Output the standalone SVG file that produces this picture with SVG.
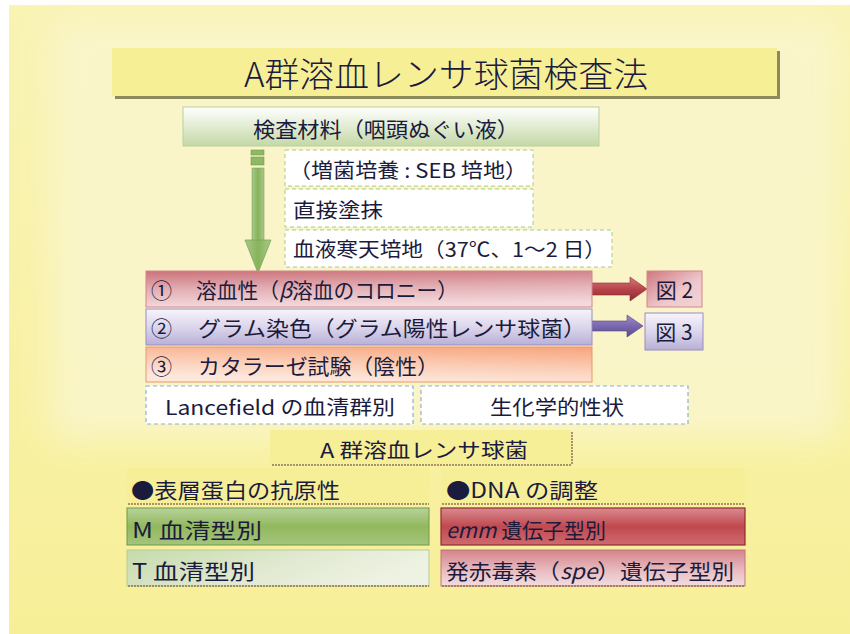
<svg xmlns="http://www.w3.org/2000/svg" width="850" height="634" viewBox="0 0 850 634">
<defs>
<linearGradient id="bgG" x1="0" y1="0" x2="0" y2="1">
<stop offset="0" stop-color="#f9f3b4"/>
<stop offset="1" stop-color="#f7ef98"/>
</linearGradient>
<filter id="blur" x="-10%" y="-10%" width="120%" height="120%"><feGaussianBlur stdDeviation="18"/></filter>
<linearGradient id="matG" x1="0" y1="0" x2="0" y2="1">
<stop offset="0" stop-color="#ffffff"/>
<stop offset="1" stop-color="#c4d8a6"/>
</linearGradient>
<linearGradient id="redG" x1="0" y1="0" x2="0.15" y2="1">
<stop offset="0" stop-color="#cc727a"/>
<stop offset="0.5" stop-color="#e2aeb3"/>
<stop offset="1" stop-color="#f3d9dc"/>
</linearGradient>
<linearGradient id="purG" x1="0" y1="0" x2="0" y2="1">
<stop offset="0" stop-color="#f6f4fb"/>
<stop offset="0.5" stop-color="#dcd6ec"/>
<stop offset="1" stop-color="#b9b0d6"/>
</linearGradient>
<linearGradient id="orG" x1="1" y1="0" x2="0.7" y2="1">
<stop offset="0" stop-color="#f7a47c"/>
<stop offset="0.6" stop-color="#fbcfb8"/>
<stop offset="1" stop-color="#fde6da"/>
</linearGradient>
<linearGradient id="mG" x1="0" y1="0" x2="0" y2="1">
<stop offset="0" stop-color="#b8d39a"/>
<stop offset="0.5" stop-color="#92b85e"/>
<stop offset="1" stop-color="#a4c47c"/>
</linearGradient>
<linearGradient id="tG" x1="0" y1="0" x2="1" y2="0.3">
<stop offset="0" stop-color="#c6dbac"/>
<stop offset="0.6" stop-color="#e2ead2"/>
<stop offset="1" stop-color="#eef2e2"/>
</linearGradient>
<linearGradient id="emmG" x1="0" y1="0" x2="0" y2="1">
<stop offset="0" stop-color="#d98a90"/>
<stop offset="0.5" stop-color="#c0494f"/>
<stop offset="1" stop-color="#cf6a70"/>
</linearGradient>
<linearGradient id="speG" x1="0" y1="0" x2="0" y2="1">
<stop offset="0" stop-color="#d4848b"/>
<stop offset="0.6" stop-color="#e9bfc3"/>
<stop offset="1" stop-color="#f3dcdf"/>
</linearGradient>
<linearGradient id="fig2G" x1="0" y1="0" x2="1" y2="1">
<stop offset="0" stop-color="#cf7880"/>
<stop offset="0.6" stop-color="#eec8cc"/>
<stop offset="1" stop-color="#f2d3d6"/>
</linearGradient>
<linearGradient id="arrG" x1="0" y1="0" x2="1" y2="0">
<stop offset="0" stop-color="#a9c98a"/>
<stop offset="0.5" stop-color="#87b35a"/>
<stop offset="1" stop-color="#a9c98a"/>
</linearGradient>
<linearGradient id="redArr" x1="0" y1="0" x2="0" y2="1">
<stop offset="0" stop-color="#d57a80"/>
<stop offset="0.5" stop-color="#b8444b"/>
<stop offset="1" stop-color="#8e2a30"/>
</linearGradient>
<linearGradient id="purArr" x1="0" y1="0" x2="0" y2="1">
<stop offset="0" stop-color="#9d8ccc"/>
<stop offset="0.5" stop-color="#7a67b0"/>
<stop offset="1" stop-color="#5b4b8c"/>
</linearGradient>
</defs>
<style>
text{font-family:"Noto Sans CJK JP","Noto Sans CJK SC","DejaVu Sans",sans-serif;fill:#1b1b3d;}
.t20{font-size:21px;}
.t19{font-size:20px;}
.yb{fill:#f7ef98;}
.dashG{fill:#ffffff;stroke:#a9c98a;stroke-width:1;stroke-dasharray:4 3;}
.dashB{fill:#ffffff;stroke:#8eb0d6;stroke-width:1.2;stroke-dasharray:4 3;}
.shadow{fill:none;stroke:#8a6a50;stroke-width:2;stroke-dasharray:2 1;opacity:0.7;}
</style>

<rect x="0" y="0" width="850" height="634" fill="#ffffff"/>
<rect x="9" y="5" width="841" height="629" fill="url(#bgG)"/>
<rect x="50" y="20" width="790" height="420" fill="#faf6cc" filter="url(#blur)" opacity="0.9"/>

<g id="title">
<rect x="115" y="51" width="665" height="48" fill="#8c8a5a"/>
<rect x="112" y="48" width="665" height="48" fill="#f7ef96"/>
<text x="446" y="87" font-size="34" text-anchor="middle" textLength="404" lengthAdjust="spacingAndGlyphs" style="font-weight:300">A群溶血レンサ球菌検査法</text>
</g>

<g id="material">
<rect x="183" y="107" width="416" height="39" fill="url(#matG)" stroke="#b8d09c" stroke-width="1"/>
<text x="386" y="137" class="t20" text-anchor="middle" textLength="266" lengthAdjust="spacingAndGlyphs">検査材料（咽頭ぬぐい液）</text>
</g>

<g id="connectors">
<g id="downArrow">
<rect x="251" y="150" width="13" height="5" fill="#8fb865" stroke="#6e9a48" stroke-width="0.6"/>
<rect x="251" y="157" width="13" height="8" fill="#8fb865" stroke="#6e9a48" stroke-width="0.6"/>
<rect x="252" y="168" width="12" height="73" fill="url(#arrG)" stroke="#7ea55a" stroke-width="0.6"/>
<path d="M245,240 L271,240 L258,273 Z" fill="url(#arrG)" stroke="#7ea55a" stroke-width="0.8"/>
</g>
<g id="arrowFig2">
<rect x="578" y="283" width="2.5" height="12" fill="#a8323a"/>
<rect x="582" y="283" width="2.5" height="12" fill="#a8323a"/>
<rect x="586" y="283" width="2.5" height="12" fill="#a8323a"/>
<path d="M589,283 L630,283 L630,277 L647,289 L630,301 L630,295 L589,295 Z" fill="url(#redArr)" stroke="#8e2a30" stroke-width="0.6"/>
</g>
<g id="arrowFig3">
<rect x="585" y="320" width="2.5" height="12" fill="#5b4b8c"/>
<rect x="589" y="320" width="2.5" height="12" fill="#5b4b8c"/>
<path d="M592,321 L627,321 L627,315 L643,326 L627,337 L627,331 L592,331 Z" fill="url(#purArr)" stroke="#52437e" stroke-width="0.6"/>
</g>
</g>

<g id="enrich">
<rect x="285" y="150" width="248" height="36" class="dashG"/>
<text x="289" y="178" class="t19" textLength="238" lengthAdjust="spacingAndGlyphs">（増菌培養 : SEB 培地）</text>
</g>
<g id="smear">
<rect x="285" y="189" width="248" height="38" class="dashG"/>
<text x="293" y="218" class="t19" textLength="90" lengthAdjust="spacingAndGlyphs">直接塗抹</text>
</g>
<g id="bloodAgar">
<rect x="285" y="230" width="327" height="37" class="dashG"/>
<text x="293" y="257" class="t19" textLength="313" lengthAdjust="spacingAndGlyphs">血液寒天培地（37℃、1～2 日）</text>
</g>

<g id="hemolysis">
<rect x="146" y="271" width="446" height="36" fill="url(#redG)" stroke="#d4868d" stroke-width="1"/>
<text x="151" y="298" class="t20">①</text>
<text x="196" y="298" class="t20" textLength="262" lengthAdjust="spacingAndGlyphs">溶血性（<tspan font-style="italic">β</tspan>溶血のコロニー）</text>
</g>
<g id="gram">
<rect x="146" y="309" width="446" height="36" fill="url(#purG)" stroke="#9a8cc6" stroke-width="1"/>
<text x="151" y="336" class="t20">②</text>
<text x="198" y="336" class="t20" textLength="388" lengthAdjust="spacingAndGlyphs">グラム染色（グラム陽性レンサ球菌）</text>
</g>
<g id="catalase">
<rect x="146" y="347" width="446" height="35" fill="url(#orG)" stroke="#e9976f" stroke-width="1"/>
<text x="151" y="374" class="t20">③</text>
<text x="198" y="374" class="t20" textLength="241" lengthAdjust="spacingAndGlyphs">カタラーゼ試験（陰性）</text>
</g>

<g id="fig2">
<rect x="647" y="271" width="55" height="36" fill="url(#fig2G)" stroke="#d4868d" stroke-width="1"/>
<text x="674.5" y="298" class="t20" text-anchor="middle">図 2</text>
</g>
<g id="fig3">
<rect x="645" y="313" width="58" height="37" fill="url(#purG)" stroke="#9a8cc6" stroke-width="1"/>
<text x="674" y="340" class="t20" text-anchor="middle">図 3</text>
</g>

<g id="lancefield">
<rect x="146" y="386" width="267" height="38" class="dashB"/>
<text x="280" y="415" class="t19" text-anchor="middle" textLength="230" lengthAdjust="spacingAndGlyphs">Lancefield の血清群別</text>
</g>
<g id="biochem">
<rect x="421" y="386" width="267" height="38" class="dashB"/>
<text x="557" y="415" class="t19" text-anchor="middle" textLength="134" lengthAdjust="spacingAndGlyphs">生化学的性状</text>
</g>

<g id="gas">
<rect x="270" y="430" width="302" height="35" class="yb"/>
<line x1="272" y1="465" x2="572" y2="465" class="shadow"/>
<line x1="572" y1="432" x2="572" y2="465" class="shadow"/>
<text x="424" y="458" class="t19" text-anchor="middle" textLength="208" lengthAdjust="spacingAndGlyphs">A 群溶血レンサ球菌</text>
</g>

<g id="surface">
<rect x="127" y="468" width="302" height="36" class="yb"/>
<line x1="128" y1="504" x2="429" y2="504" class="shadow"/>
<text x="131" y="498" class="t20" textLength="209" lengthAdjust="spacingAndGlyphs">●表層蛋白の抗原性</text>
</g>
<g id="dna">
<rect x="441" y="468" width="304" height="36" class="yb"/>
<line x1="442" y1="504" x2="745" y2="504" class="shadow"/>
<text x="446" y="498" class="t20" textLength="152" lengthAdjust="spacingAndGlyphs">●DNA の調整</text>
</g>
<g id="mSero">
<rect x="127" y="508" width="302" height="37" fill="url(#mG)" stroke="#6e9848" stroke-width="1"/>
<text x="132" y="538" class="t20" textLength="130" lengthAdjust="spacingAndGlyphs">M 血清型別</text>
</g>
<g id="emm">
<rect x="441" y="508" width="304" height="37" fill="url(#emmG)" stroke="#8e2a30" stroke-width="1.2"/>
<text x="446" y="538" class="t20" textLength="160" lengthAdjust="spacingAndGlyphs"><tspan font-style="italic">emm</tspan> 遺伝子型別</text>
</g>
<g id="tSero">
<rect x="127" y="550" width="302" height="36" fill="url(#tG)" stroke="#b6cc98" stroke-width="1"/>
<line x1="128" y1="586" x2="429" y2="586" class="shadow"/>
<text x="132" y="579" class="t20" textLength="123" lengthAdjust="spacingAndGlyphs">T 血清型別</text>
</g>
<g id="spe">
<rect x="441" y="550" width="304" height="36" fill="url(#speG)" stroke="#c6737a" stroke-width="1"/>
<line x1="442" y1="586" x2="745" y2="586" class="shadow"/>
<text x="446" y="579" class="t20" textLength="288" lengthAdjust="spacingAndGlyphs">発赤毒素（<tspan font-style="italic">spe</tspan>）遺伝子型別</text>
</g>
</svg>
